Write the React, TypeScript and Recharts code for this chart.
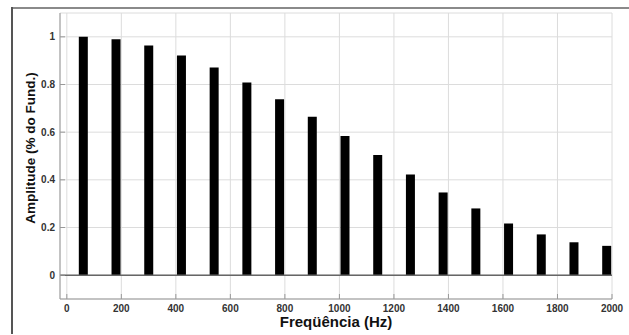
import React from "react";
import {
  ComposedChart,
  Bar,
  XAxis,
  YAxis,
  CartesianGrid,
  ReferenceLine,
} from "recharts";

const frequencies = [60, 180, 300, 420, 540, 660, 780, 900, 1020, 1140, 1260, 1380, 1500, 1620, 1740, 1860, 1980];
const amplitudes = [1.0, 0.99, 0.964, 0.922, 0.871, 0.808, 0.738, 0.665, 0.584, 0.504, 0.422, 0.347, 0.28, 0.217, 0.171, 0.138, 0.123];
const xTicks = [0, 200, 400, 600, 800, 1000, 1200, 1400, 1600, 1800, 2000];
const yTicks = [0, 0.2, 0.4, 0.6, 0.8, 1];

const data = frequencies.map((f, i) => ({ f, a: amplitudes[i] }));

const FONT = "'Liberation Sans', Arial, sans-serif";
const TICK_COLOR = "#999";
const LABEL_COLOR = "#333";

const XTickBottom = (props: any) => {
  const { x, y, payload } = props;
  const axisY = y - 6;
  return (
    <g>
      <line x1={x} x2={x} y1={axisY} y2={axisY - 5} stroke={TICK_COLOR} strokeWidth={1} />
      <text
        x={x}
        y={y}
        dy="0.72em"
        textAnchor="middle"
        fontFamily={FONT}
        fontWeight="bold"
        fontSize={10}
        fill={LABEL_COLOR}
      >
        {payload.value}
      </text>
    </g>
  );
};

const XTickTop = (props: any) => {
  const { x, y } = props;
  return <line x1={x} x2={x} y1={y} y2={y + 5} stroke={TICK_COLOR} strokeWidth={1} />;
};

const YTickLeft = (props: any) => {
  const { x, y, payload } = props;
  const axisX = x + 5;
  return (
    <g>
      <line x1={axisX} x2={axisX + 5} y1={y} y2={y} stroke={TICK_COLOR} strokeWidth={1} />
      <text
        x={x}
        y={y}
        dy="0.36em"
        textAnchor="end"
        fontFamily={FONT}
        fontWeight="bold"
        fontSize={10}
        fill={LABEL_COLOR}
      >
        {payload.value}
      </text>
    </g>
  );
};

const YTickRight = (props: any) => {
  const { x, y } = props;
  return <line x1={x} x2={x - 5} y1={y} y2={y} stroke={TICK_COLOR} strokeWidth={1} />;
};

export default function App() {
  return (
    <div style={{ position: "absolute", left: 0, top: 0, width: 629, height: 335, background: "#fff" }}>
      <div style={{ position: "absolute", left: 12, top: 7, width: 617, height: 2, background: "#8a8a8a" }} />
      <div style={{ position: "absolute", left: 11, top: 7, width: 2, height: 327, background: "#555" }} />
      <div style={{ position: "absolute", left: 0, top: 0 }}>
        <ComposedChart
          width={629}
          height={335}
          data={data}
          margin={{ top: 13, right: 17, left: 0, bottom: 0 }}
        >
          <CartesianGrid stroke="#dcdcdc" strokeWidth={1} />
          <XAxis
            dataKey="f"
            type="number"
            domain={[-25, 2000]}
            ticks={xTicks}
            allowDataOverflow
            height={36}
            tickSize={0}
            tickMargin={6}
            tickLine={false}
            axisLine={{ stroke: TICK_COLOR }}
            tick={<XTickBottom />}
            interval={0}
            label={{
              value: "Freqüência (Hz)",
              position: "insideBottom",
              offset: 8,
              style: { fontFamily: FONT, fontWeight: "bold", fontSize: 15, fill: "#111" },
            }}
          />
          <XAxis
            xAxisId="top"
            orientation="top"
            type="number"
            domain={[-25, 2000]}
            ticks={xTicks}
            allowDataOverflow
            height={0}
            tickSize={0}
            tickMargin={0}
            tickLine={false}
            axisLine={{ stroke: "#bbb" }}
            tick={<XTickTop />}
            interval={0}
          />
          <YAxis
            type="number"
            domain={[-0.1, 1.1]}
            ticks={yTicks}
            allowDataOverflow
            width={60}
            tickSize={0}
            tickMargin={5}
            tickLine={false}
            axisLine={{ stroke: TICK_COLOR }}
            tick={<YTickLeft />}
            interval={0}
            label={{
              value: "Amplitude (% do Fund.)",
              angle: -90,
              position: "insideLeft",
              offset: 0,
              dx: 30,
              dy: -8,
              style: { fontFamily: FONT, fontWeight: "bold", fontSize: 13.5, fill: "#111", textAnchor: "middle" },
            }}
          />
          <YAxis
            yAxisId="right"
            orientation="right"
            type="number"
            domain={[-0.1, 1.1]}
            ticks={yTicks}
            allowDataOverflow
            width={0}
            tickSize={0}
            tickMargin={0}
            tickLine={false}
            axisLine={{ stroke: TICK_COLOR }}
            tick={<YTickRight />}
            interval={0}
          />
          <ReferenceLine y={0} stroke="#666" strokeWidth={1.5} />
          <Bar dataKey="a" fill="#000" barSize={9} isAnimationActive={false} />
        </ComposedChart>
      </div>
    </div>
  );
}
